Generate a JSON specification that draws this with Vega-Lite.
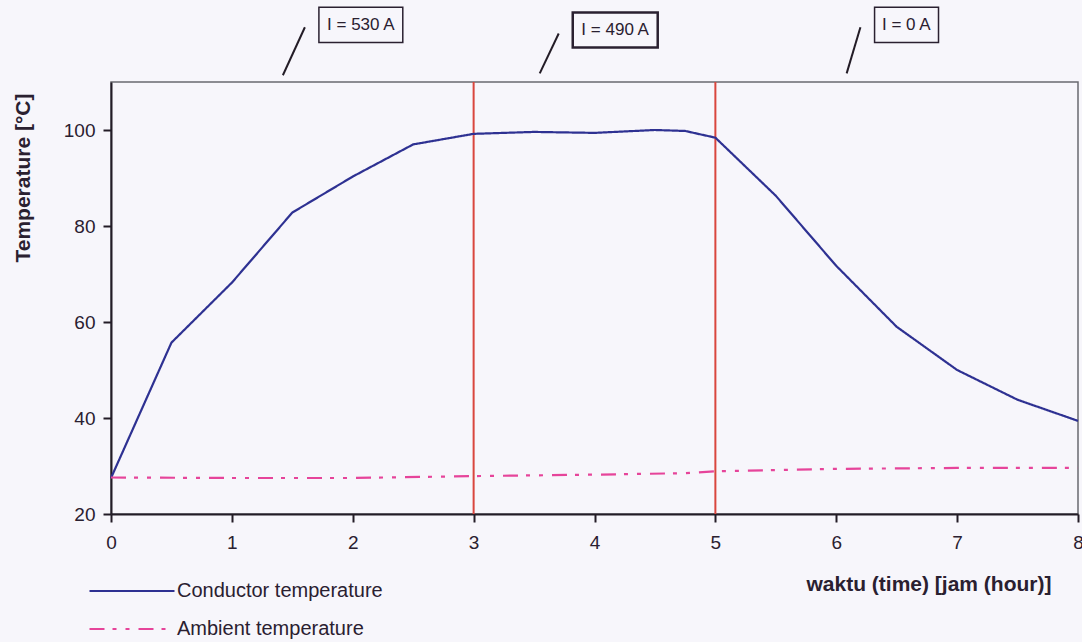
{
  "$schema": "https://vega.github.io/schema/vega-lite/v6.json",
  "width": 967,
  "height": 432,
  "autosize": {"type": "none"},
  "padding": {"left": 111, "top": 82, "right": 4, "bottom": 128},
  "background": "#f7f6fb",
  "config": {
    "view": {"stroke": "#6a6a70", "strokeWidth": 1.5},
    "font": "Liberation Sans",
    "axis": {
      "domainColor": "#231c26",
      "domainWidth": 2,
      "tickColor": "#231c26",
      "tickWidth": 2,
      "tickSize": 8,
      "grid": false,
      "labelFont": "Liberation Sans",
      "labelFontSize": 19,
      "labelColor": "#2a2030",
      "titleFont": "Liberation Sans",
      "titleFontWeight": "bold",
      "titleFontSize": 21,
      "titleColor": "#2a2030"
    }
  },
  "layer": [
    {
      "data": {"values": [{"t": 3}, {"t": 5}]},
      "mark": {"type": "rule", "color": "#d9463e", "strokeWidth": 2},
      "encoding": {
        "x": {"field": "t", "type": "quantitative", "scale": {"domain": [0, 8]}},
        "y": {"datum": 20, "type": "quantitative", "scale": {"domain": [20, 110]}},
        "y2": {"datum": 110}
      }
    },
    {
      "data": {
        "values": [
          {"t": 0, "temp": 27.5, "series": "Conductor temperature"},
          {"t": 0.5, "temp": 55.7, "series": "Conductor temperature"},
          {"t": 1, "temp": 68.2, "series": "Conductor temperature"},
          {"t": 1.5, "temp": 82.8, "series": "Conductor temperature"},
          {"t": 2, "temp": 90.3, "series": "Conductor temperature"},
          {"t": 2.5, "temp": 97.0, "series": "Conductor temperature"},
          {"t": 3, "temp": 99.2, "series": "Conductor temperature"},
          {"t": 3.5, "temp": 99.6, "series": "Conductor temperature"},
          {"t": 4, "temp": 99.4, "series": "Conductor temperature"},
          {"t": 4.5, "temp": 100.0, "series": "Conductor temperature"},
          {"t": 4.75, "temp": 99.8, "series": "Conductor temperature"},
          {"t": 5, "temp": 98.4, "series": "Conductor temperature"},
          {"t": 5.5, "temp": 86.3, "series": "Conductor temperature"},
          {"t": 6, "temp": 71.7, "series": "Conductor temperature"},
          {"t": 6.5, "temp": 59.0, "series": "Conductor temperature"},
          {"t": 7, "temp": 50.0, "series": "Conductor temperature"},
          {"t": 7.5, "temp": 43.8, "series": "Conductor temperature"},
          {"t": 8, "temp": 39.4, "series": "Conductor temperature"},
          {"t": 0, "temp": 27.6, "series": "Ambient temperature"},
          {"t": 1, "temp": 27.5, "series": "Ambient temperature"},
          {"t": 2, "temp": 27.5, "series": "Ambient temperature"},
          {"t": 3, "temp": 27.9, "series": "Ambient temperature"},
          {"t": 4, "temp": 28.2, "series": "Ambient temperature"},
          {"t": 4.75, "temp": 28.5, "series": "Ambient temperature"},
          {"t": 5, "temp": 28.9, "series": "Ambient temperature"},
          {"t": 6, "temp": 29.4, "series": "Ambient temperature"},
          {"t": 7, "temp": 29.6, "series": "Ambient temperature"},
          {"t": 8, "temp": 29.6, "series": "Ambient temperature"}
        ]
      },
      "mark": {"type": "line", "strokeWidth": 2.2},
      "encoding": {
        "x": {
          "field": "t", "type": "quantitative",
          "scale": {"domain": [0, 8], "nice": false},
          "axis": {
            "values": [0, 1, 2, 3, 4, 5, 6, 7, 8],
            "format": "d",
            "labelPadding": 11,
            "labelFlush": false,
            "title": "waktu (time) [jam (hour)]",
            "titleAnchor": "end",
            "titleAlign": "right",
            "titleBaseline": "alphabetic",
            "titleX": 940,
            "titleY": 76
          }
        },
        "y": {
          "field": "temp", "type": "quantitative",
          "scale": {"domain": [20, 110], "nice": false, "zero": false},
          "axis": {
            "values": [20, 40, 60, 80, 100],
            "labelPadding": 8,
            "title": "Temperature [°C]",
            "titleAlign": "right",
            "titleBaseline": "bottom",
            "titleAngle": -90,
            "titleX": -78,
            "titleY": 11
          }
        },
        "color": {
          "field": "series", "type": "nominal",
          "scale": {"domain": ["Conductor temperature", "Ambient temperature"], "range": ["#2e3192", "#e6449a"]},
          "legend": {
            "title": null,
            "orient": "none",
            "legendX": 11,
            "legendY": 499,
            "padding": 0,
            "symbolType": "M-5,0H5",
            "symbolSize": 289,
            "symbolStrokeWidth": 2,
            "labelFont": "Liberation Sans",
            "labelFontSize": 20,
            "labelLimit": 400,
            "labelColor": "#2a2030",
            "labelOffset": 35,
            "rowPadding": 18
          }
        },
        "strokeDash": {
          "field": "series", "type": "nominal",
          "scale": {"domain": ["Conductor temperature", "Ambient temperature"], "range": [[1, 0], [15, 8, 4, 9, 4, 9]]},
          "legend": null
        }
      }
    },
    {
      "data": {
        "values": [
          {"x1": 1.422, "y1": 111.4, "x2": 1.604, "y2": 121.4},
          {"x1": 3.547, "y1": 111.8, "x2": 3.704, "y2": 120.1},
          {"x1": 6.086, "y1": 111.8, "x2": 6.2, "y2": 121.4}
        ]
      },
      "mark": {"type": "rule", "color": "#231c26", "strokeWidth": 2},
      "encoding": {
        "x": {"field": "x1", "type": "quantitative"},
        "x2": {"field": "x2"},
        "y": {"field": "y1", "type": "quantitative"},
        "y2": {"field": "y2"}
      }
    },
    {
      "data": {
        "values": [
          {"label": "I = 530 A", "x1": 1.72, "x2": 2.414, "y1": 118.25, "y2": 125.55, "xc": 2.067, "yc": 121.9, "w": "normal", "bw": 1.5},
          {"label": "I = 490 A", "x1": 3.82, "x2": 4.523, "y1": 117.2, "y2": 124.5, "xc": 4.171, "yc": 120.85, "w": "bold", "bw": 2.5},
          {"label": "I = 0 A", "x1": 6.317, "x2": 6.846, "y1": 118.25, "y2": 125.55, "xc": 6.58, "yc": 121.9, "w": "normal", "bw": 1.5}
        ]
      },
      "layer": [
        {
          "mark": {"type": "rect", "fill": null, "stroke": "#2a2030"},
          "encoding": {
            "x": {"field": "x1", "type": "quantitative"},
            "x2": {"field": "x2"},
            "y": {"field": "y1", "type": "quantitative"},
            "y2": {"field": "y2"},
            "strokeWidth": {"field": "bw", "type": "quantitative", "scale": null}
          }
        },
        {
          "mark": {"type": "text", "font": "Liberation Sans", "fontSize": 17, "color": "#2a2030", "baseline": "middle", "align": "center"},
          "encoding": {
            "x": {"field": "xc", "type": "quantitative"},
            "y": {"field": "yc", "type": "quantitative"},
            "text": {"field": "label"},
            "fontWeight": {"field": "w", "type": "nominal", "scale": null}
          }
        }
      ]
    }
  ]
}
